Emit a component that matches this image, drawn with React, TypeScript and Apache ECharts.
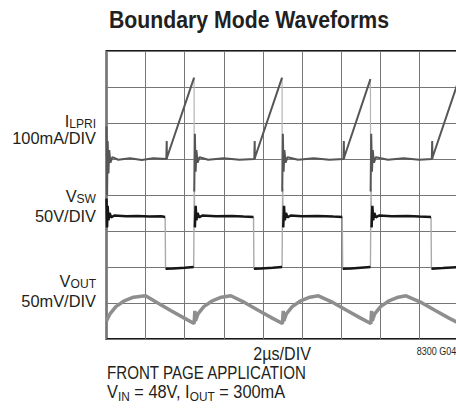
import React, { useEffect, useRef } from "react";
import * as echarts from "echarts";

type Pt = [number, number | null];

// Oscilloscope traces, x in divisions (2µs/DIV), y in divisions from bottom of screen.
// A [x, null] entry breaks the trace; fast edges are kept in separate lighter arrays.
const ILPRI: Pt[] = [
  [0, 5.9], [0.015, 4.0], [0.03, 5.5], [0.05, 4.6], [0.07, 5.25], [0.1, 4.9], [0.15, 5.05], [0.3, 4.98], [0.6, 5.02], [0.9, 4.97], [1.2, 5.02], [1.53, 5.0],
  [1.54, 5.5], [1.545, 5.0], [1.55, 5.05], [2.24, 7.26], [2.242, null],
  [2.245, 4.1], [2.26, 5.7], [2.28, 4.65], [2.3, 5.25], [2.33, 4.9], [2.38, 5.05], [2.6, 4.98], [3.0, 5.02], [3.4, 4.98], [3.78, 5.0],
  [3.79, 5.5], [3.795, 5.0], [3.8, 5.05], [4.49, 7.26], [4.492, null],
  [4.495, 4.1], [4.51, 5.7], [4.53, 4.65], [4.55, 5.25], [4.58, 4.9], [4.63, 5.05], [4.9, 4.98], [5.3, 5.02], [5.7, 4.98], [6.06, 5.0],
  [6.07, 5.5], [6.075, 5.0], [6.08, 5.05], [6.75, 7.22], [6.752, null],
  [6.755, 4.1], [6.77, 5.7], [6.79, 4.65], [6.81, 5.25], [6.84, 4.9], [6.89, 5.05], [7.2, 4.98], [7.6, 5.02], [8.0, 4.98], [8.32, 5.0],
  [8.33, 5.5], [8.335, 5.0], [8.34, 5.05], [9.03, 7.26],
];
const ILPRI_EDGES: Pt[] = [
  [2.24, 7.26], [2.245, 4.1], [2.25, null],
  [4.49, 7.26], [4.495, 4.1], [4.5, null],
  [6.75, 7.22], [6.755, 4.1],
];

const VSW: Pt[] = [
  [0, 3.9], [0.015, 3.1], [0.03, 3.7], [0.05, 3.3], [0.08, 3.5], [0.12, 3.38], [0.2, 3.43], [0.5, 3.41], [0.8, 3.42], [1.1, 3.4], [1.4, 3.41], [1.5, 3.39], [1.505, null],
  [1.51, 1.95], [1.7, 1.96], [2.0, 1.98], [2.23, 2.0], [2.24, null],
  [2.26, 3.1], [2.28, 3.7], [2.3, 3.3], [2.33, 3.5], [2.37, 3.38], [2.45, 3.43], [2.8, 3.41], [3.2, 3.42], [3.5, 3.4], [3.76, 3.39], [3.765, null],
  [3.77, 1.95], [3.95, 1.96], [4.25, 1.98], [4.49, 2.0], [4.5, null],
  [4.52, 3.1], [4.54, 3.7], [4.56, 3.3], [4.59, 3.5], [4.63, 3.38], [4.71, 3.43], [5.0, 3.41], [5.4, 3.42], [5.8, 3.4], [6.03, 3.39], [6.035, null],
  [6.04, 1.95], [6.25, 1.96], [6.5, 1.98], [6.75, 2.0], [6.76, null],
  [6.78, 3.1], [6.8, 3.7], [6.82, 3.3], [6.85, 3.5], [6.89, 3.38], [6.97, 3.43], [7.3, 3.41], [7.7, 3.42], [8.0, 3.4], [8.3, 3.39], [8.305, null],
  [8.31, 1.95], [8.6, 1.97], [9.0, 2.0],
];
const VSW_EDGES: Pt[] = [
  [1.5, 3.39], [1.51, 1.95], [1.52, null],
  [2.23, 2.0], [2.245, 4.2], [2.26, 3.1], [2.27, null],
  [3.76, 3.39], [3.77, 1.95], [3.78, null],
  [4.49, 2.0], [4.505, 4.2], [4.52, 3.1], [4.53, null],
  [6.03, 3.39], [6.04, 1.95], [6.05, null],
  [6.75, 2.0], [6.765, 4.2], [6.78, 3.1], [6.79, null],
  [8.3, 3.39], [8.31, 1.95],
];

const VOUT: Pt[] = [
  [0, 0.5], [0.09, 0.7], [0.24, 0.9], [0.44, 1.05], [0.69, 1.16], [1.0, 1.2], [1.3, 1.01], [1.64, 0.79], [1.99, 0.58],
  [2.24, 0.43], [2.26, 0.78], [2.275, 0.5], [2.34, 0.7], [2.49, 0.9], [2.69, 1.05], [2.94, 1.16], [3.18, 1.2], [3.54, 1.01], [3.89, 0.79], [4.24, 0.58],
  [4.5, 0.43], [4.52, 0.78], [4.535, 0.5], [4.6, 0.7], [4.75, 0.9], [4.95, 1.05], [5.2, 1.16], [5.42, 1.2], [5.8, 1.01], [6.15, 0.79], [6.5, 0.58],
  [6.76, 0.43], [6.78, 0.78], [6.795, 0.5], [6.86, 0.7], [7.01, 0.9], [7.21, 1.05], [7.46, 1.16], [7.66, 1.2], [8.06, 1.01], [8.41, 0.79], [8.76, 0.58],
  [9.02, 0.43],
];

const X_DIVS = [0, 10];
const Y_DIVS = [0, 8];

const TITLE = "Boundary Mode Waveforms";
const X_LABEL = "2µs/DIV";
const FIG_ID = "8300 G04";
const NOTE_1 = "FRONT PAGE APPLICATION";

const F = "'Liberation Sans', Arial, Helvetica, sans-serif";
const INK = "#231f20";

function rich(main: number, sub: number, pad: number) {
  return {
    m: { fontFamily: F, fontSize: main, lineHeight: main, verticalAlign: "top", fill: INK },
    s: { fontFamily: F, fontSize: sub, verticalAlign: "top", padding: [pad, 0, 0, 0], fill: INK },
  };
}

export default function App() {
  const ref = useRef<HTMLDivElement>(null);
  useEffect(() => {
    if (!ref.current) return;
    const chart = echarts.init(ref.current, undefined, { renderer: "svg" });
    const trace = (data: Pt[], color: string, width: number, z: number) => ({
      type: "line", data, showSymbol: false, connectNulls: false, z,
      lineStyle: { color, width }, emphasis: { disabled: true },
    });
    chart.setOption({
      animation: false,
      backgroundColor: "#ffffff",
      grid: {
        left: 106.5, top: 51, width: 391, height: 288,
        show: true, borderColor: "#1a1a1a", borderWidth: 2, backgroundColor: "transparent",
      },
      xAxis: {
        type: "value", min: X_DIVS[0], max: X_DIVS[1], interval: 1,
        axisLine: { show: false }, axisTick: { show: false }, axisLabel: { show: false },
        splitLine: { show: true, lineStyle: { color: "#767676", width: 1 } },
      },
      yAxis: {
        type: "value", min: Y_DIVS[0], max: Y_DIVS[1], interval: 1,
        axisLine: { show: false }, axisTick: { show: false }, axisLabel: { show: false },
        splitLine: { show: true, lineStyle: { color: "#767676", width: 1 } },
      },
      series: [
        trace(VOUT, "#8e8e8e", 3.5, 3),
        trace(ILPRI_EDGES, "#b4b4b4", 1.2, 3),
        trace(VSW_EDGES, "#aaaaaa", 1.4, 3),
        trace(ILPRI, "#565656", 2, 4),
        trace(VSW, "#161616", 2.5, 5),
      ],
      graphic: [
        { type: "text", x: 109, y: 20, scaleX: 0.885, style: { text: TITLE, fontFamily: F, fontSize: 24, fontWeight: "bold", fill: INK, align: "left", verticalAlign: "middle" } },
        { type: "text", x: 96, y: 112.8, scaleX: 0.965, style: { text: "{m|I}{s|LPRI}", rich: rich(17, 12.5, 4.8), align: "right", verticalAlign: "top" } },
        { type: "text", x: 96, y: 138.3, scaleX: 0.965, style: { text: "100mA/DIV", fontFamily: F, fontSize: 17, fill: INK, align: "right", verticalAlign: "middle" } },
        { type: "text", x: 96, y: 187.8, scaleX: 0.965, style: { text: "{m|V}{s|SW}", rich: rich(17, 12.5, 4.8), align: "right", verticalAlign: "top" } },
        { type: "text", x: 96, y: 216, scaleX: 0.965, style: { text: "50V/DIV", fontFamily: F, fontSize: 17, fill: INK, align: "right", verticalAlign: "middle" } },
        { type: "text", x: 96, y: 272.8, scaleX: 0.965, style: { text: "{m|V}{s|OUT}", rich: rich(17, 12.5, 4.8), align: "right", verticalAlign: "top" } },
        { type: "text", x: 96, y: 301.7, scaleX: 0.965, style: { text: "50mV/DIV", fontFamily: F, fontSize: 17, fill: INK, align: "right", verticalAlign: "middle" } },
        { type: "text", x: 253.3, y: 354.5, scaleX: 0.896, style: { text: X_LABEL, fontFamily: F, fontSize: 18, fill: INK, align: "left", verticalAlign: "middle" } },
        { type: "text", x: 416.7, y: 351, scaleX: 0.9, style: { text: FIG_ID, fontFamily: F, fontSize: 10, fill: INK, align: "left", verticalAlign: "middle" } },
        { type: "text", x: 107, y: 373.5, scaleX: 0.84, style: { text: NOTE_1, fontFamily: F, fontSize: 18, fill: INK, align: "left", verticalAlign: "middle" } },
        { type: "text", x: 107, y: 382.7, scaleX: 0.91, style: { text: "{m|V}{s|IN}{m| = 48V, I}{s|OUT}{m| = 300mA}", rich: rich(18, 13, 7.2), align: "left", verticalAlign: "top" } },
      ],
    });
    return () => chart.dispose();
  }, []);
  return (
    <div style={{ position: "absolute", left: 0, top: 0, width: 456, height: 416, overflow: "hidden" }}>
      <div ref={ref} style={{ width: 500, height: 416 }} />
    </div>
  );
}
